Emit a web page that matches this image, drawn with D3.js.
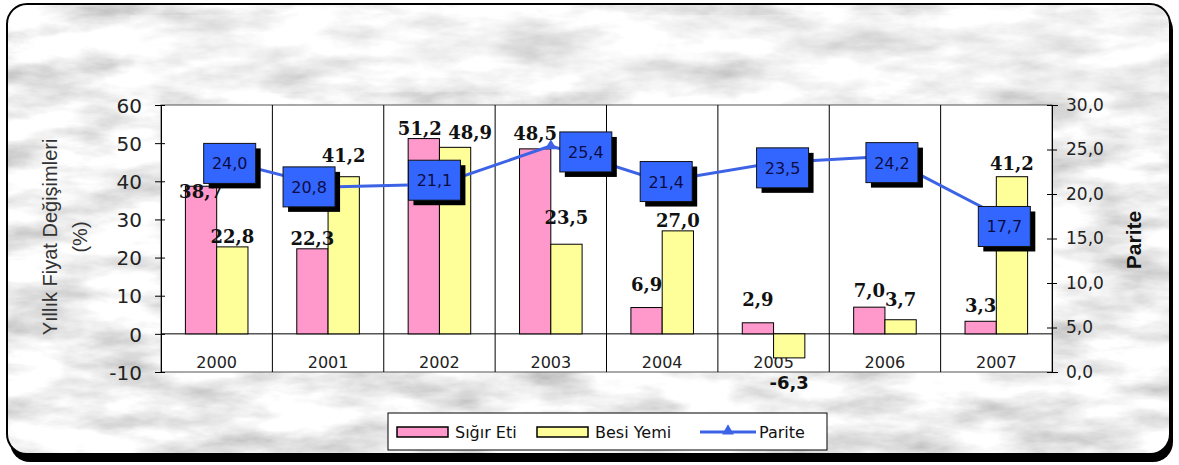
<!DOCTYPE html>
<html>
<head>
<meta charset="utf-8">
<script src="https://cdn.jsdelivr.net/npm/d3@7"></script>
<style>
  body { margin: 0; background: #fff; }
  svg { display: block; }
</style>
</head>
<body>
<div id="chart"></div>
<script>
// Data
var years = ["2000", "2001", "2002", "2003", "2004", "2005", "2006", "2007"];
var sigirEti = [38.7, 22.3, 51.2, 48.5, 6.9, 2.9, 7.0, 3.3];
var besiYemi = [22.8, 41.2, 48.9, 23.5, 27.0, -6.3, 3.7, 41.2];
var parite = [24.0, 20.8, 21.1, 25.4, 21.4, 23.5, 24.2, 17.7];
var leftTicks = [-10, 0, 10, 20, 30, 40, 50, 60];
var rightTicks = [0, 5, 10, 15, 20, 25, 30];

// label nudges (style only, pixels): [dx, lift]
var boxNudge = [[13, 5], [-19, 0], [-5, -4], [35, 6], [4, 0], [9, 5], [7, 6], [8, 12]];
var sNudge = [[0, -16], [0, 0], [-4, 0], [0, 5], [0, 13], [0, 13], [0, 6], [0, 5]];
var bNudge = [[0, 0], [0, 11], [15, 4], [0, 16], [0, 0], [0, 0], [0, 10], [0, 3]];

var W = 1179, H = 465;
var plot = { left: 161, right: 1052, top: 105, bottom: 372 };
var fmt = function (v) { return d3.format(".1f")(v).replace(".", ",").replace("\u2212", "-"); };
var fmtInt = function (v) { return String(v); };
var SANS = "'DejaVu Sans', sans-serif";
var NARROW = "'Liberation Sans', Arial, sans-serif";

var svg = d3.select("#chart").append("svg")
    .attr("width", W)
    .attr("height", H);

// marble-ish background
var defs = svg.append("defs");
var f = defs.append("filter").attr("id", "marble")
    .attr("x", 0).attr("y", 0).attr("width", "100%").attr("height", "100%");
f.append("feTurbulence")
    .attr("type", "fractalNoise")
    .attr("baseFrequency", "0.012 0.035")
    .attr("numOctaves", 5)
    .attr("seed", 11);
f.append("feColorMatrix")
    .attr("type", "matrix")
    .attr("values", "0.95 0 0 0 0.4  0.95 0 0 0 0.4  0.95 0 0 0 0.4  0 0 0 0 1");
defs.append("clipPath").attr("id", "frameClip")
    .append("rect")
    .attr("x", 7).attr("y", 4).attr("width", 1163).attr("height", 450).attr("rx", 20);

// frame shadow
svg.append("rect")
    .attr("x", 10).attr("y", 10)
    .attr("width", 1163).attr("height", 452)
    .attr("rx", 20)
    .attr("fill", "#000");

svg.append("rect")
    .attr("x", 7).attr("y", 4)
    .attr("width", 1163).attr("height", 450)
    .attr("rx", 20)
    .attr("fill", "#dcdcdc");

svg.append("g")
    .attr("clip-path", "url(#frameClip)")
    .append("rect")
    .attr("x", 0).attr("y", 0)
    .attr("width", W).attr("height", H)
    .attr("filter", "url(#marble)");

// pale title strips
svg.append("rect")
    .attr("x", 130).attr("y", 15)
    .attr("width", 1030).attr("height", 45)
    .attr("fill", "#fff").attr("opacity", 0.25);
svg.append("rect")
    .attr("x", 135).attr("y", 60)
    .attr("width", 1025).attr("height", 32)
    .attr("fill", "#fff").attr("opacity", 0.2);

svg.append("rect")
    .attr("x", 7).attr("y", 4)
    .attr("width", 1163).attr("height", 450)
    .attr("rx", 20)
    .attr("fill", "none")
    .attr("stroke", "#000")
    .attr("stroke-width", 2);

// Scales
var x = d3.scaleBand()
    .domain(years)
    .range([plot.left, plot.right]);
var x1 = d3.scaleBand()
    .domain(["s", "b"])
    .range([0, x.bandwidth()])
    .paddingOuter(0.78);
var yL = d3.scaleLinear()
    .domain([-10, 60])
    .range([plot.bottom, plot.top]);
var yR = d3.scaleLinear()
    .domain([0, 30])
    .range([plot.bottom, plot.top]);

// plot area
svg.append("rect")
    .attr("x", plot.left).attr("y", plot.top)
    .attr("width", plot.right - plot.left)
    .attr("height", plot.bottom - plot.top)
    .attr("fill", "#fff")
    .attr("stroke", "#555")
    .attr("stroke-width", 1);

// category separators
svg.append("g")
    .selectAll("line")
    .data(years.slice(1))
    .enter().append("line")
    .attr("x1", function (d) { return x(d); })
    .attr("x2", function (d) { return x(d); })
    .attr("y1", plot.top)
    .attr("y2", plot.bottom)
    .attr("stroke", "#000");

// zero line
svg.append("line")
    .attr("x1", plot.left).attr("x2", plot.right)
    .attr("y1", yL(0)).attr("y2", yL(0))
    .attr("stroke", "#000");

// category labels
svg.append("g")
    .selectAll("text")
    .data(years)
    .enter().append("text")
    .attr("x", function (d) { return x(d) + x.bandwidth() / 2; })
    .attr("y", yL(0) + 34)
    .attr("text-anchor", "middle")
    .style("font-family", SANS)
    .style("font-size", "16px")
    .style("fill", "#222")
    .text(function (d) { return d; });

// Bars
var series = [
    { key: "s", values: sigirEti, color: "#ff99cc", nudge: sNudge },
    { key: "b", values: besiYemi, color: "#ffff99", nudge: bNudge }
];

series.forEach(function (s) {
    svg.append("g")
        .selectAll("rect")
        .data(s.values)
        .enter().append("rect")
        .attr("x", function (d, i) { return x(years[i]) + x1(s.key); })
        .attr("width", x1.bandwidth())
        .attr("y", function (d) { return yL(Math.max(0, d)); })
        .attr("height", function (d) { return Math.abs(yL(d) - yL(0)); })
        .attr("fill", s.color)
        .attr("stroke", "#000")
        .attr("stroke-width", 1);
});

// Axes
var axL = svg.append("g")
    .attr("transform", "translate(" + plot.left + ",0)")
    .call(d3.axisLeft(yL).tickValues(leftTicks).tickSize(6).tickPadding(13)
        .tickFormat(fmtInt));
axL.select(".domain").attr("stroke", "#000");
axL.selectAll(".tick line").attr("x2", 4).attr("x1", -6).attr("stroke", "#000");
axL.selectAll("text")
    .attr("dy", "0.36em")
    .style("font-family", SANS)
    .style("font-size", "20px")
    .style("fill", "#222");

var axR = svg.append("g")
    .attr("transform", "translate(" + plot.right + ",0)")
    .call(d3.axisRight(yR).tickValues(rightTicks).tickSize(6).tickPadding(8)
        .tickFormat(fmt));
axR.select(".domain").attr("stroke", "#000");
axR.selectAll(".tick line").attr("x1", -5).attr("x2", 5).attr("stroke", "#000");
axR.selectAll("text")
    .style("font-family", SANS)
    .style("font-size", "17px")
    .style("fill", "#222");

// Axis titles
var yTitle = svg.append("text")
    .attr("transform", "translate(57,237) rotate(-90)")
    .attr("text-anchor", "middle")
    .style("font-family", NARROW)
    .style("font-size", "20px")
    .style("fill", "#333");
yTitle.append("tspan").attr("x", 0).attr("dy", 0).text("Yıllık Fiyat Değişimleri");
yTitle.append("tspan").attr("x", 0).attr("dy", 30).text("(%)");

svg.append("text")
    .attr("transform", "translate(1141,240) rotate(-90)")
    .attr("text-anchor", "middle")
    .style("font-family", NARROW)
    .style("font-size", "21px")
    .style("font-weight", "bold")
    .style("fill", "#111")
    .text("Parite");

// Bar value labels
series.forEach(function (s) {
    svg.append("g")
        .selectAll("text")
        .data(s.values)
        .enter().append("text")
        .attr("x", function (d, i) { return x(years[i]) + x1(s.key) + x1.bandwidth() / 2 + s.nudge[i][0]; })
        .attr("y", function (d, i) { return d >= 0 ? yL(d) - 4 - s.nudge[i][1] : yL(d) + 31; })
        .attr("text-anchor", "middle")
        .style("font-family", function (d) { return d >= 0 ? "'DejaVu Serif', serif" : SANS; })
        .style("font-size", "18px")
        .style("font-weight", "bold")
        .style("fill", "#111")
        .text(function (d) { return fmt(d); });
});

// Parite line
var cx = function (i) { return x(years[i]) + x.bandwidth() / 2; };
var line = d3.line()
    .x(function (d, i) { return cx(i); })
    .y(function (d) { return yR(d); });

svg.append("path")
    .datum(parite)
    .attr("d", line)
    .attr("fill", "none")
    .attr("stroke", "#3c63e6")
    .attr("stroke-width", 3);

var tri = d3.symbol().type(d3.symbolTriangle).size(60);
svg.append("g")
    .selectAll("path")
    .data(parite)
    .enter().append("path")
    .attr("d", tri)
    .attr("transform", function (d, i) { return "translate(" + cx(i) + "," + yR(d) + ")"; })
    .attr("fill", "#3c63e6");

// Parite label boxes
var bw = 52, bh = 40;
var boxes = svg.append("g")
    .selectAll("g")
    .data(parite)
    .enter().append("g")
    .attr("transform", function (d, i) {
        return "translate(" + (cx(i) + boxNudge[i][0] - bw / 2) + "," + (yR(d) + boxNudge[i][1] - bh / 2) + ")";
    });
boxes.append("rect")
    .attr("x", 5).attr("y", 5)
    .attr("width", bw).attr("height", bh)
    .attr("fill", "#000");
boxes.append("rect")
    .attr("width", bw).attr("height", bh)
    .attr("fill", "#3366ff")
    .attr("stroke", "#111")
    .attr("stroke-width", 1);
boxes.append("text")
    .attr("x", bw / 2)
    .attr("y", bh / 2 + 6)
    .attr("text-anchor", "middle")
    .style("font-family", SANS)
    .style("font-size", "16px")
    .style("fill", "#0d0d45")
    .text(function (d) { return fmt(d); });

// Legend
var lg = svg.append("g").attr("transform", "translate(388,413)");
lg.append("rect")
    .attr("width", 439).attr("height", 37)
    .attr("fill", "#fff")
    .attr("stroke", "#000");
var legendItems = [
    { label: "Sığır Eti", color: "#ff99cc", x: 9, type: "bar" },
    { label: "Besi Yemi", color: "#ffff99", x: 149, type: "bar" },
    { label: "Parite", color: "#3c63e6", x: 312, type: "line" }
];
legendItems.forEach(function (it) {
    if (it.type === "bar") {
        lg.append("rect")
            .attr("x", it.x).attr("y", 14)
            .attr("width", 51).attr("height", 10)
            .attr("fill", it.color)
            .attr("stroke", "#000")
            .attr("stroke-width", 1.5);
    } else {
        lg.append("line")
            .attr("x1", it.x).attr("x2", it.x + 56)
            .attr("y1", 19).attr("y2", 19)
            .attr("stroke", it.color)
            .attr("stroke-width", 3);
        lg.append("path")
            .attr("d", tri)
            .attr("transform", "translate(" + (it.x + 28) + ",18)")
            .attr("fill", it.color);
    }
    lg.append("text")
        .attr("x", it.x + (it.type === "bar" ? 58 : 59))
        .attr("y", 25)
        .style("font-family", SANS)
        .style("font-size", "16px")
        .style("fill", "#111")
        .text(it.label);
});
</script>
</body>
</html>
